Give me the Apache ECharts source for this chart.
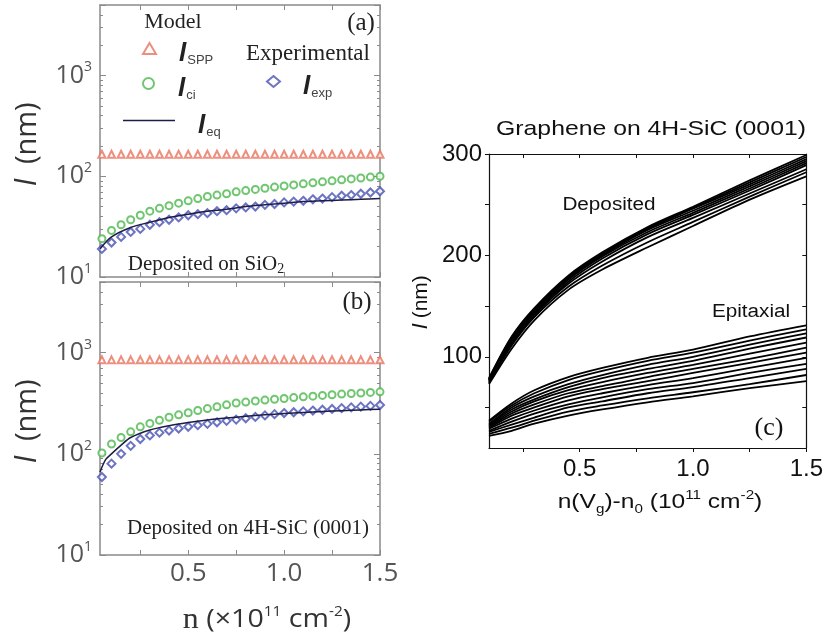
<!DOCTYPE html>
<html>
<head>
<meta charset="utf-8">
<script src="https://cdn.jsdelivr.net/npm/echarts@6/dist/echarts.min.js"></script>
<style>
html, body { margin: 0; padding: 0; background: #fff; }
#main { width: 826px; height: 637px; }
</style>
</head>
<body>
<div id="main"></div>
<script>
// carrier density points (1e11 cm^-2) for the markers of (a) and (b)
var nPts = [0.05, 0.10, 0.15, 0.20, 0.25, 0.30, 0.35, 0.40, 0.45, 0.50,
  0.55, 0.60, 0.65, 0.70, 0.75, 0.80, 0.85, 0.90, 0.95, 1.00,
  1.05, 1.10, 1.15, 1.20, 1.25, 1.30, 1.35, 1.40, 1.45, 1.50];

// (a) deposited on SiO2, l in nm
var sppA = [165, 165, 165, 165, 165, 165, 165, 165, 165, 165, 165, 165, 165, 165, 165,
  165, 165, 165, 165, 165, 165, 165, 165, 165, 165, 165, 165, 165, 165, 165];
var ciA = [24, 29, 33, 37, 41, 45, 48, 51, 54, 57, 60, 63, 65, 67, 70,
  72, 74, 76, 78, 80, 82, 84, 86, 88, 90, 92, 94, 96, 98, 100];
var expA = [19, 22, 25, 28, 30, 33, 35, 37, 39, 41, 42, 43, 45, 46, 48,
  49, 50, 52, 53, 55, 56, 57, 59, 60, 62, 64, 65, 67, 69, 71];
var eqNA = [0.04, 0.1, 0.2, 0.3, 0.4, 0.5, 0.6, 0.7, 0.8, 0.9, 1.0, 1.1, 1.2, 1.3, 1.4, 1.5];
var eqA = [19, 25, 31, 35, 39, 42, 45, 47, 50, 52, 54, 56, 57, 58, 59, 60];

// (b) deposited on 4H-SiC (0001)
var sppB = [850, 850, 850, 850, 850, 850, 850, 850, 850, 850, 850, 850, 850, 850, 850,
  850, 850, 850, 850, 850, 850, 850, 850, 850, 850, 850, 850, 850, 850, 850];
var ciB = [102, 125, 145, 165, 185, 200, 215, 230, 243, 255, 268, 280, 292, 305, 318,
  325, 333, 340, 347, 353, 360, 366, 372, 378, 384, 390, 395, 400, 405, 410];
var expB = [59, 80, 100, 120, 140, 152, 162, 170, 178, 185, 192, 198, 205, 212, 218,
  225, 232, 240, 247, 253, 258, 263, 268, 273, 278, 283, 288, 293, 298, 304];
var eqNB = [0.04, 0.07, 0.1, 0.15, 0.2, 0.3, 0.4, 0.5, 0.6, 0.7, 0.8, 0.9, 1.0, 1.1, 1.2, 1.3, 1.4, 1.5];
var eqB = [66, 88, 100, 122, 145, 172, 190, 204, 216, 226, 235, 243, 250, 256, 262, 267, 272, 276];

// (c) n(Vg)-n0 points and the two families of curves
var nC = [0.1, 0.2, 0.3, 0.45, 0.6, 0.8, 1.0, 1.25, 1.5];
var deposited = [
  [79, 120, 148, 180, 203, 228, 248, 274, 299],
  [78, 119, 147, 179, 202, 227, 247, 272, 297],
  [78, 118, 146, 178, 201, 226, 246, 270, 295],
  [77, 117, 145, 177, 200, 225, 244, 268, 293],
  [77, 116, 144, 176, 199, 223, 242, 266, 291],
  [76, 115, 143, 174, 197, 221, 240, 264, 289],
  [75, 113, 141, 172, 194, 218, 237, 261, 285],
  [74, 111, 139, 169, 190, 213, 233, 258, 282],
  [73, 108, 136, 166, 186, 208, 229, 255, 278]
];
var epitaxial = [
  [37, 54, 67, 80, 89, 99, 107, 120, 131],
  [36, 52, 64, 77, 86, 96, 104, 116, 127],
  [34, 50, 61, 73, 82, 92, 100, 112, 123],
  [33, 48, 58, 70, 79, 88, 96, 108, 119],
  [32, 46, 56, 67, 75, 84, 92, 103, 114],
  [31, 44, 53, 64, 71, 80, 88, 98, 109],
  [30, 42, 50, 61, 68, 76, 84, 94, 104],
  [29, 39, 47, 57, 64, 72, 79, 89, 99],
  [27, 36, 44, 53, 60, 68, 74, 84, 93],
  [26, 33, 40, 50, 56, 64, 70, 79, 88],
  [24, 30, 37, 46, 52, 59, 65, 73, 82],
  [22, 27, 34, 42, 48, 55, 61, 69, 76]
];

var xTicks = [0.25, 0.5, 0.75, 1.0, 1.25, 1.5];
var xLabels = [0.5, 1.0, 1.5];
var cTicks = [50, 100, 150, 200, 250, 300];
var cLabels = [100, 200, 300];

function pairs(xs, ys) {
  return xs.map(function (x, i) { return [x, ys[i]]; });
}

var gray = '#8a8a8a';
var sans = 'Liberation Sans';
var serif = 'Liberation Serif';

// axes for the two log panels
function logX(grid, pos, labels) {
  return {
    type: 'value', gridIndex: grid, position: pos, min: 0.04, max: 1.5,
    axisLine: { lineStyle: { color: gray, width: 1.5 } },
    axisTick: { inside: true, length: 5, customValues: xTicks, lineStyle: { color: gray } },
    axisLabel: {
      show: labels, customValues: xLabels, margin: 6,
      fontFamily: 'Open Sans', fontSize: 26, color: '#555',
      formatter: function (v) { return v.toFixed(1); }
    },
    splitLine: { show: false }
  };
}
function logY(grid, pos, labels) {
  return {
    type: 'log', gridIndex: grid, position: pos, min: 10, max: 5000, logBase: 10,
    axisLine: { lineStyle: { color: gray, width: 1.5 } },
    axisTick: { inside: true, length: 6, lineStyle: { color: gray } },
    minorTick: { show: true, splitNumber: 9, length: 3, lineStyle: { color: gray } },
    axisLabel: {
      show: labels, margin: 8,
      formatter: function (v) {
        var e = Math.log10(v);
        if (Math.abs(e - Math.round(e)) > 1e-6) return '';
        return '{b|10}{s|' + Math.round(e) + '}';
      },
      rich: {
        b: { fontFamily: 'Open Sans', fontSize: 25, color: '#555', lineHeight: 30 },
        s: { fontFamily: 'Open Sans', fontSize: 14, color: '#555', lineHeight: 14, verticalAlign: 'top' }
      }
    },
    splitLine: { show: false }, minorSplitLine: { show: false }
  };
}

// legend text: bold italic l with a lowered subscript
var legRich = {
  i: { fontFamily: sans, fontStyle: 'italic', fontWeight: 'bold', fontSize: 26, color: '#222',
    lineHeight: 34, padding: [0, 0, 0, 18], verticalAlign: 'bottom' },
  s: { fontFamily: sans, fontSize: 13, color: '#444', lineHeight: 30,
    padding: [0, 0, 0, 1], verticalAlign: 'bottom' },
  z: { fontSize: 1, lineHeight: 37 }
};
function legText(sub) {
  return function () { return '{i|l}{s|' + sub + '}{z| }'; };
}
function leg(name, sub, left, top) {
  return {
    data: [name], left: left, top: top, padding: 0, itemWidth: 13, itemHeight: 11,
    selectedMode: false, formatter: legText(sub), textStyle: { rich: legRich }
  };
}

var series = [];
function panelSeries(ax, spp, ci, exp, eqN, eq, tag) {
  series.push({
    name: 'spp' + tag, type: 'scatter', xAxisIndex: ax, yAxisIndex: ax,
    symbol: 'emptyTriangle', symbolSize: 7, data: pairs(nPts, spp),
    itemStyle: { color: '#e8735e', borderWidth: 1.3 }
  });
  series.push({
    name: 'ci' + tag, type: 'scatter', xAxisIndex: ax, yAxisIndex: ax,
    symbol: 'emptyCircle', symbolSize: 7, data: pairs(nPts, ci),
    itemStyle: { color: '#4cb84c', borderWidth: 1.5 }
  });
  series.push({
    name: 'exp' + tag, type: 'scatter', xAxisIndex: ax, yAxisIndex: ax,
    symbol: 'emptyDiamond', symbolSize: 8, data: pairs(nPts, exp),
    itemStyle: { color: '#4650b3', borderWidth: 1.3 }
  });
  series.push({
    name: 'eq' + tag, type: 'line', xAxisIndex: ax, yAxisIndex: ax,
    symbol: 'none', smooth: 0.3, data: pairs(eqN, eq),
    lineStyle: { color: '#1d1d45', width: 1.5 }, itemStyle: { color: '#1d1d45' }
  });
}
panelSeries(0, sppA, ciA, expA, eqNA, eqA, '');
panelSeries(2, sppB, ciB, expB, eqNB, eqB, 'B');

deposited.concat(epitaxial).forEach(function (ys) {
  series.push({
    type: 'line', xAxisIndex: 4, yAxisIndex: 4, symbol: 'none', silent: true,
    smooth: 0.3, data: pairs(nC, ys),
    lineStyle: { color: '#000', width: 1.8 }
  });
});

function txt(x, y, text, st, rot, sx) {
  var style = Object.assign({
    text: text, x: 0, y: 0, fill: '#222',
    align: 'center', verticalAlign: 'middle',
    textAlign: 'center', textVerticalAlign: 'middle'
  }, st);
  return { type: 'text', x: x, y: y, rotation: rot || 0, scaleX: sx || 1, style: style, silent: true };
}

var yName = {
  fontFamily: 'Open Sans', fontSize: 29, fill: '#333',
  rich: { i: { fontFamily: sans, fontStyle: 'italic', fontSize: 29, fill: '#333' } }
};

var myChart = echarts.init(document.getElementById('main'));
myChart.setOption({
  animation: false,
  backgroundColor: '#fff',
  grid: [
    { left: 100, top: 5, width: 280, height: 272 },
    { left: 100, top: 282, width: 280, height: 273 },
    { left: 489, top: 154, width: 318, height: 294 }
  ],
  xAxis: [
    logX(0, 'bottom', false),
    logX(0, 'top', false),
    logX(1, 'bottom', true),
    logX(1, 'top', false),
    {
      type: 'value', gridIndex: 2, position: 'bottom', min: 0.1, max: 1.5,
      axisLine: { lineStyle: { color: '#111', width: 1.2 } },
      axisTick: { length: 4, customValues: xTicks, lineStyle: { color: '#111' } },
      axisLabel: {
        customValues: xLabels, margin: 9, fontFamily: sans, fontSize: 24, color: '#111',
        formatter: function (v) { return v.toFixed(1); }
      },
      splitLine: { show: false }
    },
    {
      type: 'value', gridIndex: 2, position: 'top', min: 0.1, max: 1.5,
      axisLine: { lineStyle: { color: '#111', width: 1.2 } },
      axisTick: { inside: true, length: 4, customValues: xTicks, lineStyle: { color: '#111' } },
      axisLabel: { show: false }, splitLine: { show: false }
    }
  ],
  yAxis: [
    logY(0, 'left', true),
    logY(0, 'right', false),
    logY(1, 'left', true),
    logY(1, 'right', false),
    {
      type: 'value', gridIndex: 2, position: 'left', min: 10, max: 300,
      axisLine: { lineStyle: { color: '#111', width: 1.2 } },
      axisTick: { length: 4, customValues: cTicks, lineStyle: { color: '#111' } },
      axisLabel: { customValues: cLabels, margin: 7, fontFamily: sans, fontSize: 24, color: '#111' },
      splitLine: { show: false }
    },
    {
      type: 'value', gridIndex: 2, position: 'right', min: 10, max: 300,
      axisLine: { lineStyle: { color: '#111', width: 1.2 } },
      axisTick: { inside: true, length: 4, customValues: cTicks, lineStyle: { color: '#111' } },
      axisLabel: { show: false }, splitLine: { show: false }
    }
  ],
  legend: [
    leg('spp', 'SPP', 142, 41),
    leg('ci', 'ci', 142, 76),
    leg('exp', 'exp', 266, 74),
    {
      data: [{ name: 'eq', icon: 'rect' }], left: 123, top: 113, padding: 0,
      itemWidth: 52, itemHeight: 1.5, selectedMode: false,
      formatter: legText('eq'), textStyle: { rich: legRich }
    }
  ],
  series: series,
  graphic: [
    // panel (a)
    txt(361, 23, '(a)', { fontFamily: serif, fontSize: 25 }),
    txt(173, 22, 'Model', { fontFamily: serif, fontSize: 22 }),
    txt(308, 54, 'Experimental', { fontFamily: serif, fontSize: 23 }),
    txt(206, 264, 'Deposited on SiO{sub|2}', {
      fontFamily: serif, fontSize: 21, lineHeight: 24,
      rich: { sub: { fontFamily: serif, fontSize: 14, verticalAlign: 'bottom', lineHeight: 12 } }
    }),
    txt(28, 144, '{i|l}  (nm)', yName, Math.PI / 2),
    // panel (b)
    txt(357, 302, '(b)', { fontFamily: serif, fontSize: 25 }),
    txt(248, 528, 'Deposited on 4H-SiC (0001)', { fontFamily: serif, fontSize: 21 }),
    txt(28, 421, '{i|l}  (nm)', yName, Math.PI / 2),
    txt(267, 620, '{n|n} (×10{sup|11} cm{sup|-2})', {
      fontFamily: 'Open Sans', fontSize: 26, fill: '#333', lineHeight: 30,
      rich: { n: { fontFamily: serif, fontSize: 29 }, sup: { fontFamily: 'Open Sans', fontSize: 14, verticalAlign: 'top', lineHeight: 14 } }
    }, 0, 1.1),
    // panel (c)
    txt(651, 129, 'Graphene on 4H-SiC (0001)', { fontFamily: sans, fontSize: 21, fill: '#111' }, 0, 1.18),
    txt(609, 205, 'Deposited', { fontFamily: sans, fontSize: 18, fill: '#111' }, 0, 1.15),
    txt(751, 312, 'Epitaxial', { fontFamily: sans, fontSize: 18, fill: '#111' }, 0, 1.15),
    txt(769, 428, '(c)', { fontFamily: serif, fontSize: 26, fill: '#111' }),
    txt(660, 502, 'n(V{sub|g})-n{sub|0} (10{sup|11} cm{sup|-2})', {
      fontFamily: sans, fontSize: 21, fill: '#111', lineHeight: 27,
      rich: { sub: { fontFamily: sans, fontSize: 13, verticalAlign: 'bottom', lineHeight: 13 }, sup: { fontFamily: sans, fontSize: 13, verticalAlign: 'top', lineHeight: 13 } }
    }, 0, 1.17),
    txt(421, 302, '{i|l} (nm)', {
      fontFamily: sans, fontSize: 21, fill: '#111',
      rich: { i: { fontFamily: sans, fontStyle: 'italic', fontSize: 21, fill: '#111' } }
    }, Math.PI / 2)
  ]
});
window.addEventListener('resize', function () { myChart.resize(); });
</script>
</body>
</html>
